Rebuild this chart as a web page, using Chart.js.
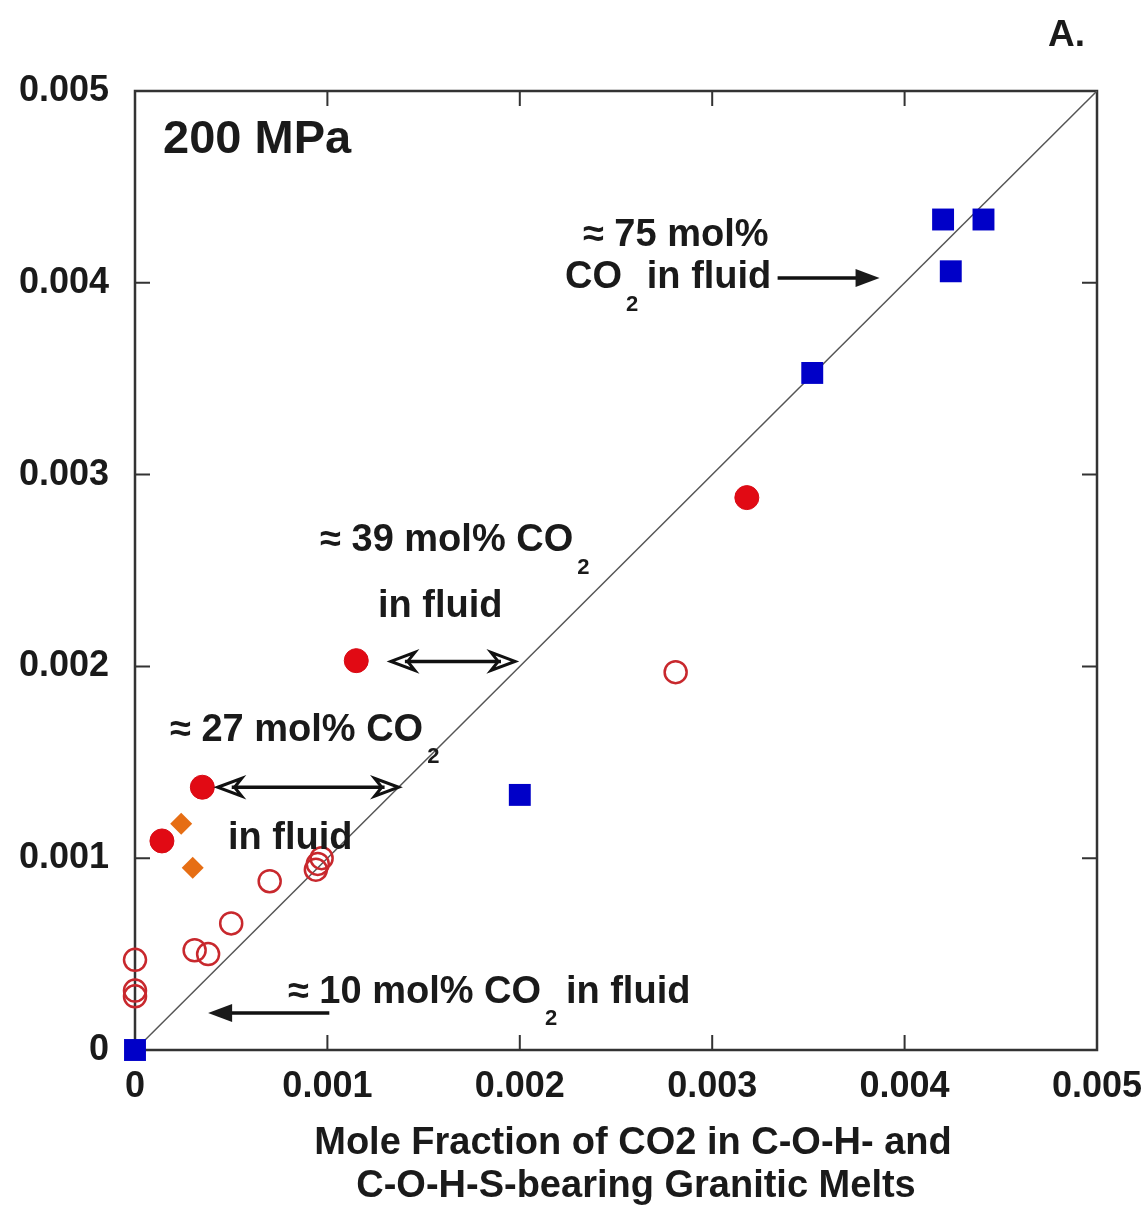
<!DOCTYPE html>
<html>
<head>
<meta charset="utf-8">
<script src="https://cdn.jsdelivr.net/npm/chart.js@4/dist/chart.umd.min.js"></script>
<style>
  html, body { margin: 0; padding: 0; background: #fff; }
  #wrap { width: 1145px; height: 1205px; }
</style>
</head>
<body>
<div id="wrap"><canvas id="myChart" width="1145" height="1205"></canvas></div>
<script>
// values (mole fractions)
var blueX = [0, 0.00200, 0.00352, 0.00420, 0.00441, 0.00424];
var blueY = [0, 0.00133, 0.00353, 0.00433, 0.00433, 0.00406];

var redX = [0.00014, 0.00035, 0.00115, 0.00318];
var redY = [0.00109, 0.00137, 0.00203, 0.00288];

var orangeX = [0.00024, 0.00030];
var orangeY = [0.00118, 0.00095];

var openX = [0, 0, 0, 0.00031, 0.00038, 0.00050, 0.00070, 0.00094, 0.00095, 0.00097, 0.00281];
var openY = [0.00047, 0.00031, 0.00028, 0.00052, 0.00050, 0.00066, 0.00088, 0.00094, 0.00097, 0.00100, 0.00197];

var lineX = [0, 0.005];
var lineY = [0, 0.005];

var tickValues = [0, 0.001, 0.002, 0.003, 0.004, 0.005];
var xTitle = ['Mole Fraction of CO2 in C-O-H- and', 'C-O-H-S-bearing Granitic Melts'];

var FONT = '"Liberation Sans", Arial, sans-serif';

function toPoints(xs, ys) {
	var pts = [];
	for (var i = 0; i < xs.length; i++) {
		pts.push({ x: xs[i], y: ys[i] });
	}
	return pts;
}

function fmtTick(v) {
	if (Math.abs(v) < 1e-12) return '0';
	return v.toFixed(3);
}

// text with a CO2 subscript; parts = [text, isSub]
function drawParts(ctx, x, y, size, parts) {
	var cx = x;
	for (var i = 0; i < parts.length; i++) {
		var p = parts[i];
		if (p[1]) {
			ctx.font = 'bold ' + Math.round(size * 0.58) + 'px ' + FONT;
			ctx.fillText(p[0], cx + 4, y + 27);
			cx += ctx.measureText(p[0]).width + 2;
		} else {
			ctx.font = 'bold ' + size + 'px ' + FONT;
			ctx.fillText(p[0], cx, y);
			cx += ctx.measureText(p[0]).width;
		}
	}
}

function arrowHead(ctx, x, y, dir, open) {
	var len = 24, half = 9;
	ctx.beginPath();
	ctx.moveTo(x, y);
	ctx.lineTo(x - dir * len, y - half);
	if (open) ctx.lineTo(x - dir * len * 0.7, y);
	ctx.lineTo(x - dir * len, y + half);
	ctx.closePath();
	if (open) {
		ctx.lineWidth = 3;
		ctx.stroke();
	} else {
		ctx.fill();
	}
}

var notes = [
	{ x: 0.000146, y: 0.004745, size: 47, parts: [['200 MPa', false]] },
	{ x: 0.002328, y: 0.004244, size: 38, parts: [['\u2248 75 mol%', false]] },
	{ x: 0.002235, y: 0.004025, size: 38, parts: [['CO', false], ['2', true], [' in fluid', false]] },
	{ x: 0.000962, y: 0.002654, size: 38, parts: [['\u2248 39 mol% CO', false], ['2', true]] },
	{ x: 0.001263, y: 0.002310, size: 38, parts: [['in fluid', false]] },
	{ x: 0.000182, y: 0.001668, size: 38, parts: [['\u2248 27 mol% CO', false], ['2', true]] },
	{ x: 0.000483, y: 0.001105, size: 38, parts: [['in fluid', false]] },
	{ x: 0.000795, y: 0.000302, size: 38, parts: [['\u2248 10 mol% CO', false], ['2', true], [' in fluid', false]] }
];

var arrows = [
	{ x1: 0.00334, x2: 0.00387, y: 0.004025, both: false, open: false },
	{ x1: 0.00133, x2: 0.001975, y: 0.002026, both: true, open: true },
	{ x1: 0.00043, x2: 0.00137, y: 0.00137, both: true, open: true },
	{ x1: 0.00101, x2: 0.00038, y: 0.000193, both: false, open: false }
];

var framePlugin = {
	id: 'frame',
	beforeDatasetsDraw: function (chart) {
		var ctx = chart.ctx, a = chart.chartArea;
		var xs = chart.scales.x, ys = chart.scales.y;
		ctx.save();
		ctx.strokeStyle = '#333';
		ctx.lineWidth = 2;
		// inward ticks on all four sides
		for (var i = 1; i < tickValues.length - 1; i++) {
			var px = xs.getPixelForValue(tickValues[i]);
			var py = ys.getPixelForValue(tickValues[i]);
			ctx.beginPath();
			ctx.moveTo(px, a.bottom); ctx.lineTo(px, a.bottom - 15);
			ctx.moveTo(px, a.top); ctx.lineTo(px, a.top + 15);
			ctx.moveTo(a.left, py); ctx.lineTo(a.left + 15, py);
			ctx.moveTo(a.right, py); ctx.lineTo(a.right - 15, py);
			ctx.stroke();
		}
		ctx.lineWidth = 2.5;
		ctx.strokeRect(a.left, a.top, a.right - a.left, a.bottom - a.top);
		ctx.restore();
	},
	afterDatasetsDraw: function (chart) {
		var ctx = chart.ctx;
		var xs = chart.scales.x, ys = chart.scales.y;
		ctx.save();
		ctx.fillStyle = '#1a1a1a';
		ctx.strokeStyle = '#111';
		ctx.textBaseline = 'middle';
		ctx.textAlign = 'left';
		for (var i = 0; i < notes.length; i++) {
			var n = notes[i];
			drawParts(ctx, xs.getPixelForValue(n.x), ys.getPixelForValue(n.y), n.size, n.parts);
		}
		ctx.font = 'bold 37px ' + FONT;
		ctx.fillText('A.', 1048, 36);

		// axis title
		ctx.textAlign = 'center';
		ctx.font = 'bold 38px ' + FONT;
		ctx.fillText(xTitle[0], 633, 1144);
		ctx.fillText(xTitle[1], 636, 1187);

		for (var j = 0; j < arrows.length; j++) {
			var ar = arrows[j];
			var x1 = xs.getPixelForValue(ar.x1), x2 = xs.getPixelForValue(ar.x2);
			var y = ys.getPixelForValue(ar.y);
			var dir = x2 > x1 ? 1 : -1;
			ctx.lineWidth = 3.5;
			ctx.beginPath();
			ctx.moveTo(x1 + (ar.both ? dir * 14 : 0), y);
			ctx.lineTo(x2 - dir * 14, y);
			ctx.stroke();
			arrowHead(ctx, x2, y, dir, ar.open);
			if (ar.both) arrowHead(ctx, x1, y, -dir, ar.open);
		}
		ctx.restore();
	}
};

var myChart = new Chart('myChart', {
	type: 'scatter',
	data: {
		datasets: [{
			label: 'CO2-H2O',
			data: toPoints(blueX, blueY),
			pointStyle: 'rect',
			pointRadius: 15.5,
			backgroundColor: 'rgb(0, 0, 200)',
			borderColor: 'rgb(0, 0, 200)',
			borderWidth: 0,
			clip: false,
			order: 1
		}, {
			label: 'filled',
			data: toPoints(redX, redY),
			pointStyle: 'circle',
			pointRadius: 12,
			backgroundColor: 'rgb(225, 10, 20)',
			borderColor: 'rgb(215, 10, 20)',
			borderWidth: 1,
			order: 2
		}, {
			label: 'diamonds',
			data: toPoints(orangeX, orangeY),
			pointStyle: 'rectRot',
			pointRadius: 11,
			backgroundColor: 'rgb(230, 110, 20)',
			borderColor: 'rgb(230, 110, 20)',
			borderWidth: 0,
			order: 3
		}, {
			label: 'open',
			data: toPoints(openX, openY),
			pointStyle: 'circle',
			pointRadius: 11,
			backgroundColor: 'rgba(0,0,0,0)',
			borderColor: 'rgb(200, 40, 45)',
			borderWidth: 2.5,
			clip: false,
			order: 4
		}, {
			label: '1:1',
			type: 'line',
			data: toPoints(lineX, lineY),
			borderColor: '#555',
			borderWidth: 1.5,
			pointRadius: 0,
			fill: false,
			order: 10
		}]
	},
	plugins: [framePlugin],
	options: {
		responsive: false,
		animation: false,
		layout: { padding: { top: 91, right: 48, left: 0, bottom: 0 } },
		plugins: {
			legend: { display: false },
			tooltip: { enabled: false }
		},
		scales: {
			x: {
				type: 'linear',
				min: 0,
				max: 0.005,
				afterBuildTicks: function (scale) {
					scale.ticks = tickValues.map(function (v) { return { value: v }; });
				},
				afterFit: function (scale) {
					scale.height = 155;
					scale.paddingLeft = 0;
					scale.paddingRight = 0;
				},
				grid: { display: false, drawTicks: false },
				border: { display: false },
				ticks: {
					callback: fmtTick,
					color: '#1a1a1a',
					padding: 15,
					maxRotation: 0,
					font: { family: FONT, size: 36, weight: 'bold' }
				}
			},
			y: {
				type: 'linear',
				min: 0,
				max: 0.005,
				afterBuildTicks: function (scale) {
					scale.ticks = tickValues.map(function (v) { return { value: v }; });
				},
				afterFit: function (scale) { scale.width = 135; },
				grid: { display: false, drawTicks: false },
				border: { display: false },
				ticks: {
					callback: fmtTick,
					color: '#1a1a1a',
					padding: 26,
					font: { family: FONT, size: 36, weight: 'bold' }
				}
			}
		}
	}
});
</script>
</body>
</html>
